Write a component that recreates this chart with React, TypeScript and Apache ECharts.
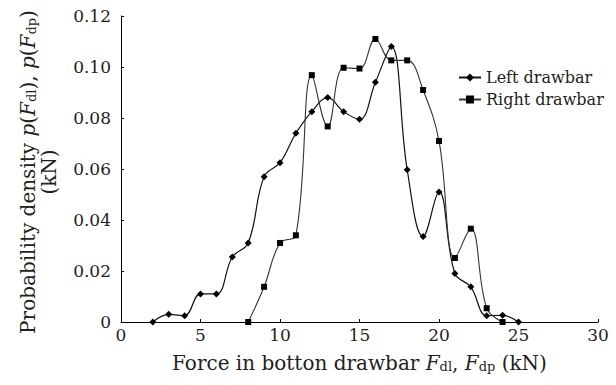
import React, { useEffect, useRef } from "react";
import * as echarts from "echarts";

const leftForce = [2, 3, 4, 5, 6, 7, 8, 9, 10, 11, 12, 13, 14, 15, 16, 17, 18, 19, 20, 21, 22, 23, 24, 25];
const leftDensity = [0, 0.003, 0.0025, 0.011, 0.011, 0.0255, 0.031, 0.057, 0.0625, 0.074, 0.0825, 0.088, 0.0825, 0.0795, 0.094, 0.108, 0.0597, 0.0335, 0.051, 0.019, 0.0138, 0.0025, 0.0026, 0];
const rightForce = [8, 9, 10, 11, 12, 13, 14, 15, 16, 17, 18, 19, 20, 21, 22, 23, 24];
const rightDensity = [0, 0.0138, 0.031, 0.034, 0.0968, 0.0767, 0.0997, 0.0994, 0.111, 0.1026, 0.1026, 0.091, 0.071, 0.0251, 0.0366, 0.0054, 0];
const xTicks = [0, 5, 10, 15, 20, 25, 30];
const yTicks = [0, 0.02, 0.04, 0.06, 0.08, 0.1, 0.12];

const FONT = "DejaVu Serif";
const TXT = "#231f20";

export default function App() {
  const ref = useRef<HTMLDivElement>(null);
  useEffect(() => {
    if (!ref.current) return;
    const chart = echarts.init(ref.current, undefined, { renderer: "svg" });
    const rich = {
      n: { fontFamily: FONT, fontSize: 20, color: TXT, lineHeight: 21 },
      i: { fontFamily: FONT, fontSize: 20, color: TXT, fontStyle: "italic", lineHeight: 21 },
      s: { fontFamily: FONT, fontSize: 13, color: TXT, lineHeight: 10, verticalAlign: "bottom" },
    };
    chart.setOption({
      animation: false,
      backgroundColor: "#fff",
      grid: { left: 121, right: 18, top: 16, bottom: 63 },
      legend: {
        orient: "vertical",
        left: 453,
        top: 64,
        itemWidth: 22,
        itemHeight: 10,
        itemGap: 5,
        textStyle: { fontFamily: FONT, fontSize: 16, color: TXT, lineHeight: 17 },
        data: ["Left drawbar", "Right drawbar"],
      },
      xAxis: {
        type: "value",
        min: xTicks[0],
        max: xTicks[xTicks.length - 1],
        interval: 5,
        name: "{n|Force in botton drawbar }{i|F}{s|dl}{n|, }{i|F}{s|dp}{n| (kN)}",
        nameLocation: "middle",
        nameGap: 30,
        nameTextStyle: { rich },
        axisLine: { lineStyle: { color: "#000", width: 1 } },
        axisTick: { show: true, inside: true, length: 3, lineStyle: { color: "#000" } },
        axisLabel: { fontFamily: FONT, fontSize: 17, color: TXT, margin: 4 },
        splitLine: { show: false },
      },
      yAxis: {
        type: "value",
        min: yTicks[0],
        max: yTicks[yTicks.length - 1],
        interval: 0.02,
        name:
          "{n|Probability density }{i|p}{n|(}{i|F}{s|dl}{n|), }{i|p}{n|(}{i|F}{s|dp}{n|)}\n{n|(kN)}",
        nameLocation: "middle",
        nameRotate: 90,
        nameGap: 62,
        nameTextStyle: { rich, align: "center", padding: [0, 6, 0, 0] },
        axisLine: { show: true, lineStyle: { color: "#000", width: 1 } },
        axisTick: { show: true, inside: true, length: 3, lineStyle: { color: "#000" } },
        axisLabel: {
          fontFamily: FONT,
          fontSize: 17,
          color: TXT,
          margin: 10,
          formatter: (v: number) => (v === 0 ? "0" : v.toFixed(2)),
        },
        splitLine: { show: false },
      },
      series: [
        {
          name: "Left drawbar",
          type: "line",
          smooth: 0.4,
          symbol: "diamond",
          symbolSize: 7,
          data: leftForce.map((x, k) => [x, leftDensity[k]]),
          lineStyle: { color: "#111", width: 1.2 },
          itemStyle: { color: "#000" },
        },
        {
          name: "Right drawbar",
          type: "line",
          smooth: 0.4,
          symbol: "rect",
          symbolSize: 6,
          data: rightForce.map((x, k) => [x, rightDensity[k]]),
          lineStyle: { color: "#333", width: 1.1 },
          itemStyle: { color: "#000" },
        },
      ],
    });
    return () => chart.dispose();
  }, []);
  return (
    <div
      ref={ref}
      style={{ position: "absolute", left: 0, top: 0, width: 616, height: 385 }}
    />
  );
}
